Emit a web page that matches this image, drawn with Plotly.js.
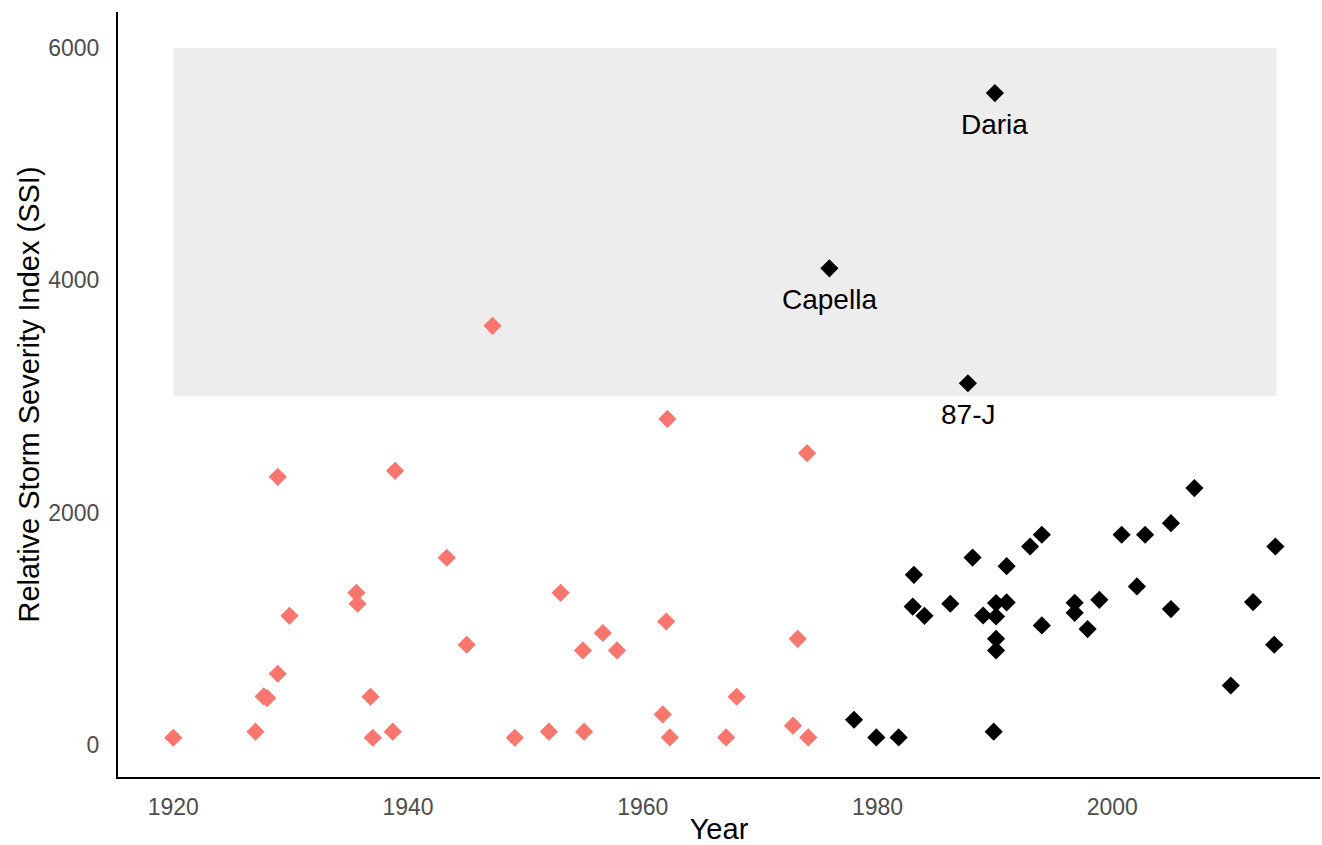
<!DOCTYPE html>
<html>
<head>
<meta charset="utf-8">
<script src="https://cdn.plot.ly/plotly-3.0.1.min.js"></script>
<style>
  html, body { margin: 0; padding: 0; background: #ffffff; }
  #chart { width: 1322px; height: 845px; }
</style>
</head>
<body>
<div id="chart"></div>
<script>
// Storms before the record period (salmon)
const earlyYears = [1920, 1927, 1927.7, 1928, 1928.9, 1928.9, 1929.9, 1935.6, 1935.7, 1936.8,
  1937, 1938.7, 1938.9, 1943.3, 1945, 1947.2, 1949.1, 1952, 1953, 1954.9,
  1955, 1956.6, 1957.8, 1961.7, 1962, 1962.1, 1962.3, 1967.1, 1968, 1972.8,
  1973.2, 1974.1, 1974];
const earlySSI = [60, 112, 416, 402, 611, 2307, 1110, 1308, 1214, 413,
  60, 112, 2359, 1610, 861, 3607, 60, 112, 1308, 812,
  112, 962, 812, 261, 1061, 2806, 63, 63, 413, 164,
  912, 63, 2511];

// Storms in the record period (black)
const lateYears = [1978, 1979.9, 1981.8, 1989.9, 1983.1, 1983, 1984, 1986.2, 1988.1, 1989,
  1990.1, 1991, 1990.1, 1990.1, 1990.1, 1991, 1993, 1994, 1994, 1996.8,
  1996.8, 1998.9, 1997.9, 2000.8, 2002.8, 2002.1, 2005, 2005, 2007, 2010.1,
  2012, 2013.9, 2013.8,
  1990, 1975.9, 1987.7];
const lateSSI = [215, 63, 63, 112, 1463, 1190, 1110, 1214, 1612, 1113,
  1220, 1225, 1104, 912, 812, 1538, 1707, 1808, 1027, 1222,
  1136, 1248, 996, 1808, 1808, 1363, 1908, 1168, 2210, 510,
  1228, 1707, 861,
  5612, 4103, 3113];

// Named storms
const namedStorms = ["Daria", "Capella", "87-J"];
const namedYears = [1990, 1975.9, 1987.7];
const namedSSI = [5612, 4103, 3113];

// Highlighted band
const bandYears = [1920, 2014];
const bandSSI = [3000, 6000];

const xTicks = [1920, 1940, 1960, 1980, 2000];
const yTicks = [0, 2000, 4000, 6000];

const FONT = "Liberation Sans, Arial, sans-serif";

const traces = [
  {
    type: "scatter", mode: "markers", name: "early",
    x: earlyYears, y: earlySSI,
    marker: { symbol: "diamond", size: 14, color: "#F8766D", line: { width: 0 } },
    hoverinfo: "x+y"
  },
  {
    type: "scatter", mode: "markers", name: "late",
    x: lateYears, y: lateSSI,
    marker: { symbol: "diamond", size: 14, color: "#000000", line: { width: 0 } },
    hoverinfo: "x+y"
  }
];

const annotations = namedStorms.map((name, i) => ({
  x: namedYears[i], y: namedSSI[i], xref: "x", yref: "y",
  text: name, showarrow: false, yshift: -31,
  font: { family: FONT, size: 28, color: "#000000" }
}));

const layout = {
  width: 1322, height: 845,
  margin: { l: 118, r: 2, t: 12, b: 68 },
  paper_bgcolor: "#ffffff", plot_bgcolor: "#ffffff",
  showlegend: false,
  font: { family: FONT },
  xaxis: {
    range: [1915.29, 2017.7],
    tickvals: xTicks, ticktext: xTicks.map(String),
    showgrid: false, zeroline: false,
    showline: true, linecolor: "#000000", linewidth: 2,
    ticks: "", ticklabelstandoff: 8,
    tickfont: { family: FONT, size: 23, color: "#4D4D4D" },
    title: { text: "Year", font: { family: FONT, size: 29, color: "#000000" }, standoff: 11 }
  },
  yaxis: {
    range: [-278, 6310],
    tickvals: yTicks, ticktext: yTicks.map(String),
    showgrid: false, zeroline: false,
    showline: true, linecolor: "#000000", linewidth: 2,
    ticks: "", ticklabelstandoff: 12,
    tickfont: { family: FONT, size: 23, color: "#4D4D4D" },
    title: { text: "Relative Storm Severity Index (SSI)", font: { family: FONT, size: 29, color: "#000000" }, standoff: 0 }
  },
  shapes: [{
    type: "rect", xref: "x", yref: "y", layer: "below",
    x0: bandYears[0], x1: bandYears[1], y0: bandSSI[0], y1: bandSSI[1],
    fillcolor: "#EDEDED", line: { width: 0 }
  }],
  annotations: annotations
};

Plotly.newPlot("chart", traces, layout, { displayModeBar: false, staticPlot: true });
</script>
</body>
</html>
